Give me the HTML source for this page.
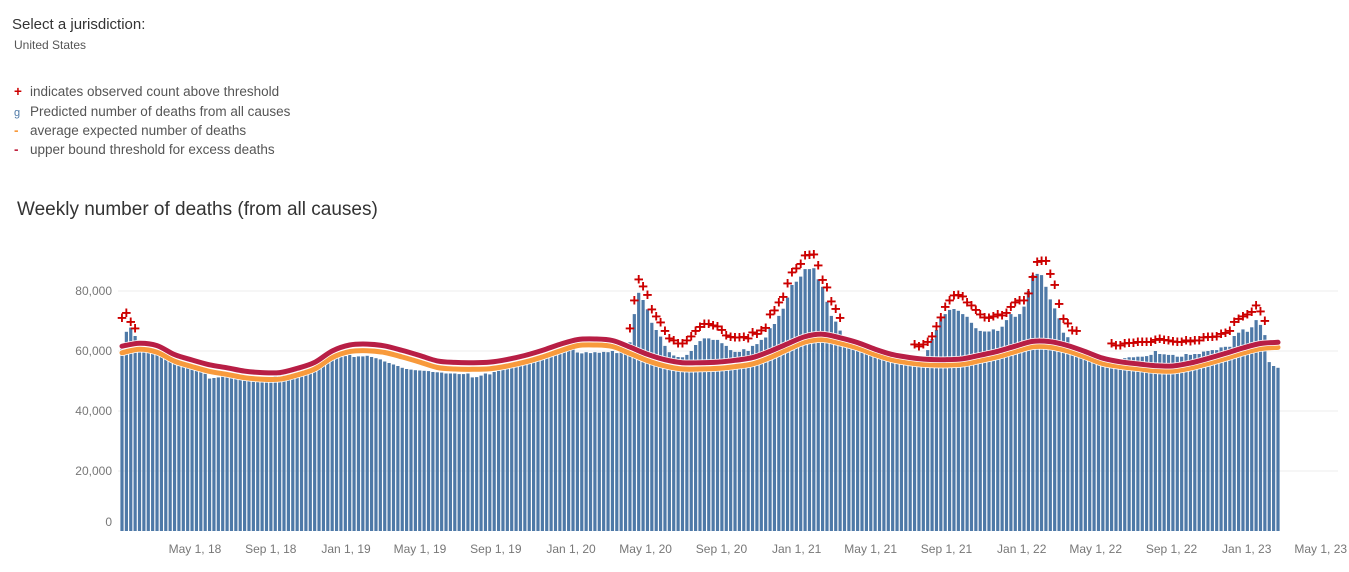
<!DOCTYPE html>
<html><head><meta charset="utf-8">
<style>
body{margin:0;background:#fff;font-family:"Liberation Sans",sans-serif;width:1349px;height:572px;overflow:hidden;position:relative}
.t{position:absolute;white-space:nowrap}
.m{display:inline-block;width:16px}
</style></head><body>
<div class="t" style="left:12px;top:16px;font-size:15px;color:#333">Select a jurisdiction:</div>
<div class="t" style="left:14px;top:38px;font-size:12px;color:#555">United States</div>
<div>
<div class="t" style="left:14px;top:84px;font-size:13.5px;color:#555"><span class="m" style="color:#c00;font-weight:bold">+</span>indicates observed count above threshold</div>
<div class="t" style="left:14px;top:104px;font-size:13.5px;color:#555"><span class="m" style="color:#4e79a7;font-size:11px">g</span>Predicted number of deaths from all causes</div>
<div class="t" style="left:14px;top:123px;font-size:13.5px;color:#555"><span class="m" style="color:#f89a3c;font-weight:bold">-</span>average expected number of deaths</div>
<div class="t" style="left:14px;top:142px;font-size:13.5px;color:#555"><span class="m" style="color:#c0233f;font-weight:bold">-</span>upper bound threshold for excess deaths</div>
</div>
<div class="t" style="left:17px;top:199px;font-size:19px;color:#333">Weekly number of deaths (from all causes)</div>
<svg id="chart" width="1349" height="572" style="position:absolute;left:0;top:0"></svg>
<script>
const bars=[61.4,66.4,67.8,65,61.4,61,60.5,59.4,58.8,58.1,57.2,56.5,56.3,55.5,55,54.5,54.1,53.7,53.2,52.4,50.8,51,51.2,52,51.8,51.6,51.4,51.2,51,50.9,50.8,50.9,51,51.2,51.5,52,52.3,52.8,53.3,54,54.5,55,55.5,55.8,56.2,56.6,56.4,57.8,58.7,58.3,58,58.3,
58.7,58,58.2,58.2,58.4,58,57.6,57.2,56.5,56,55.5,55,54.4,54,53.8,53.6,53.5,53.4,53.3,53,52.9,52.8,52.5,52.5,52.5,52.3,52.3,52.5,51.2,51.3,51.8,52.5,52.2,53,53.4,54.6,54.4,55,55.5,56,56.3,56.8,57.2,57.5,57.9,58.2,58.8,59.5,60.2,61,61.2,61.4,
59.5,59.2,59.6,59.3,59.6,59.4,59.7,59.6,60,59.3,59.8,59.5,62.9,72.3,79.4,77,73.9,69.4,67,64.8,61.7,59.6,58.5,58,57.9,58.7,60,62,63.3,64.2,64.2,63.7,63.7,62.6,61.7,60.3,59.7,59.7,60.6,60,61.7,62.3,63.7,64.5,67.6,69,71.7,74.1,77.8,82,83.1,84.8,
87.3,87.3,87.6,83.9,81.4,76.4,71.7,69.8,66.8,64.8,63.6,62.5,62,61.5,60.5,59.8,58.5,58,57.5,57,56.5,56.3,56,55.8,55.6,55.5,55.8,56.5,
60.3,64,67,70.9,72.3,73.7,74,73.4,72.3,71.4,69.4,67.6,66.7,66.5,66.5,67.2,66.7,68.1,70.3,72.3,71.4,72.3,74.8,80,85.3,85.7,85.3,81.4,77.2,74.2,70.9,66.1,64.6,61.7,59.8,
58.2,57.6,57.2,56.8,56.3,56,56.4,56.8,57,57.2,57.6,57.9,57.9,58.1,58.1,58.3,58.7,60,59,58.9,58.7,58.7,58.1,58.1,59,58.7,59,59,59.8,60,60.3,60.3,61.2,61.4,61.4,65,66.1,67.2,66.4,67.9,70.3,68.7,65.3,56.3,55,54.4];
const expected=[59.4,60.6,59.6,56.6,54.8,53.2,52.2,51.1,50.6,50.6,52,54,57.8,59.8,60.1,59.5,58,56.3,54.5,54,53.9,54.1,55,56.3,58,60,61.8,62,61.5,59.2,56.8,55,54,54,54.2,54.8,55.7,57.8,60.5,63,63.8,62.6,61,58.8,57,56,55.4,55.3,55.6,56.8,58.1,59.8,61.4,61.3,60,58,55.8,54.8,54.1,53.4,53.3,54.3,55.8,57.5,59.3,60.8,61.2];
const threshold=[61.6,62.6,61.8,58.8,57,55.4,54.4,53.3,52.8,52.8,54.2,56.2,60,62,62.3,61.7,60.2,58.5,56.7,56.2,56.1,56.3,57.2,58.5,60.2,62.2,63.8,64,63.5,61.3,58.9,57.1,56.1,56.1,56.3,56.9,57.8,59.9,62.4,64.8,65.6,64.4,62.8,60.6,58.8,57.8,57.2,57.1,57.4,58.6,59.9,61.6,63.2,63.1,61.8,59.8,57.6,56.4,55.7,55.1,55,56,57.5,59.2,61,62.5,62.9];
const plusSegments=[[0,4],[116,49],[181,38],[226,36]];
const plusValues=[71.1,72.8,69.8,67.6,
67.6,77,84,81.7,78.9,74,71.7,69.6,66.8,64.4,63.7,62.6,62.6,63.7,65,66.8,68.1,69.2,69.2,68.7,68.4,67.2,65.3,64.8,64.6,64.6,64.8,64.4,66.4,65.9,67,67.9,72.3,73.7,76.4,78.1,82.6,86.4,87.6,89.2,92,92.2,92.3,88.7,83.9,81.4,76.7,74.2,71.2,
62.3,61.7,62.3,63.1,65,68.3,71.4,74.8,77,78.7,78.9,78.3,76.4,75.3,73.9,72.3,71.4,71.2,71.7,72.3,72,72.8,74.8,76.4,77,77,79.4,84.8,89.8,90.1,90.1,85.9,82.2,75.9,70.9,69.4,67,66.8,
62.6,62,62,62.6,62.8,62.8,63.1,63.1,63.1,63.1,63.9,64.2,63.9,63.7,63.4,63.1,63.1,63.7,63.4,63.7,63.7,64.6,64.8,64.8,65,65.9,66.1,66.8,69.8,70.9,71.7,72.3,73.1,75.3,73.4,70.1];
const yTicks=[0,20000,40000,60000,80000];
const yTickLabels=["0","20,000","40,000","60,000","80,000"];
const xTickDates=["2018-05-01","2018-09-01","2019-01-01","2019-05-01","2019-09-01","2020-01-01","2020-05-01","2020-09-01","2021-01-01","2021-05-01","2021-09-01","2022-01-01","2022-05-01","2022-09-01","2023-01-01","2023-05-01"];
const xTickLabels=["May 1, 18","Sep 1, 18","Jan 1, 19","May 1, 19","Sep 1, 19","Jan 1, 20","May 1, 20","Sep 1, 20","Jan 1, 21","May 1, 21","Sep 1, 21","Jan 1, 22","May 1, 22","Sep 1, 22","Jan 1, 23","May 1, 23"];

const NS="http://www.w3.org/2000/svg";
const svg=document.getElementById('chart');
const step=(1278-122)/264;
function xw(i){return 122+i*step;}
function yv(k){return 531-k*3;}
function yd(d){return 531-d*0.003;}
function xDate(s){const t=(new Date(s+"T00:00:00Z")-new Date("2018-01-01T00:00:00Z"))/864e5;return 121+t*0.6165;}
function mk(tag,attrs){const e=document.createElementNS(NS,tag);for(const k in attrs)e.setAttribute(k,attrs[k]);svg.appendChild(e);return e;}

yTicks.forEach((v,j)=>{
  if(v>0){const g=mk('line',{x1:118,x2:1338,y1:yd(v),y2:yd(v),stroke:'#ececec','stroke-width':1});
  
  }
  const t=mk('text',{x:112,y:v===0?526:yd(v)+4,'text-anchor':'end','font-size':12,fill:'#777','font-family':'Liberation Sans, sans-serif'});
  t.textContent=yTickLabels[j];
  
  
});
xTickDates.forEach((d,j)=>{
  const t=mk('text',{x:xDate(d),y:553,'text-anchor':'middle','font-size':12,fill:'#777','font-family':'Liberation Sans, sans-serif'});
  t.textContent=xTickLabels[j];
  
  
});
bars.forEach((v,i)=>{
  const r=mk('rect',{x:xw(i)-1.6,y:yv(v),width:3.2,height:531-yv(v),fill:'#4e79a7'});
  
  
});
function path(arr){
  const pts=arr.map((v,j)=>[xw(j*4),yv(v)]);
  let d='M'+pts[0][0]+','+pts[0][1];
  for(let k=0;k<pts.length-1;k++){
    const p0=pts[Math.max(0,k-1)],p1=pts[k],p2=pts[k+1],p3=pts[Math.min(pts.length-1,k+2)];
    d+=' C'+(p1[0]+(p2[0]-p0[0])/6)+','+(p1[1]+(p2[1]-p0[1])/6)+' '+(p2[0]-(p3[0]-p1[0])/6)+','+(p2[1]-(p3[1]-p1[1])/6)+' '+p2[0]+','+p2[1];
  }
  return d;
}
const eh=mk('path',{d:path(expected),fill:'none',stroke:'#fff','stroke-width':6.5,'stroke-linecap':'round'});


const el=mk('path',{d:path(expected),fill:'none',stroke:'#f89a3c','stroke-width':5,'stroke-linecap':'round'});


const th=mk('path',{d:path(threshold),fill:'none',stroke:'#fff','stroke-width':6.5,'stroke-linecap':'round'});


const tl=mk('path',{d:path(threshold),fill:'none',stroke:'#b81e45','stroke-width':5,'stroke-linecap':'round'});


let pi=0;
plusSegments.forEach(seg=>{
  for(let k=0;k<seg[1];k++){
    const i=seg[0]+k, v=plusValues[pi++];
    const t=mk('text',{x:xw(i),y:yv(v)+6,'text-anchor':'middle','font-size':17,'font-weight':'bold',fill:'#c00','font-family':'Liberation Sans, sans-serif'});
    t.textContent='+';
    
    
  }
});
</script>
</body></html>
